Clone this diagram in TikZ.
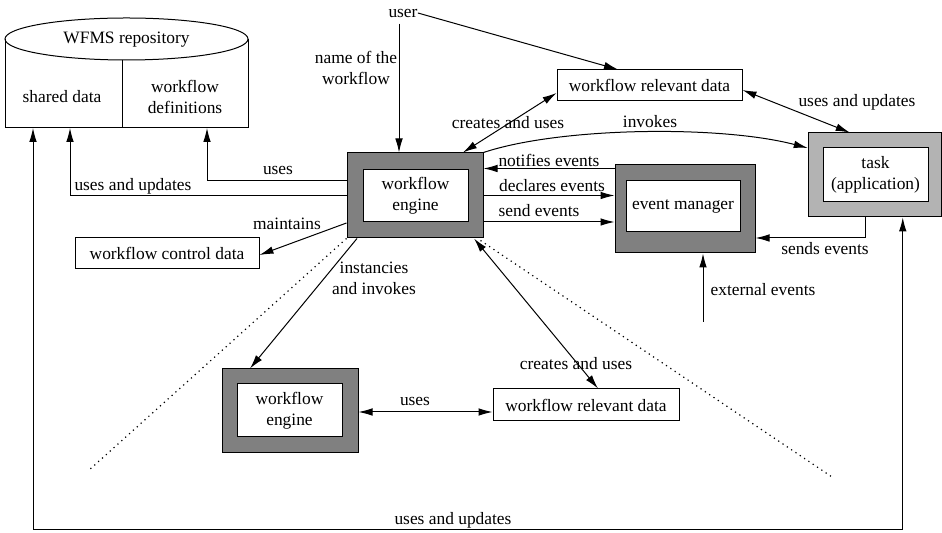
\documentclass[tikz,border=0pt]{standalone}
\usepackage{fontspec}
\setmainfont{Liberation Serif}
\usetikzlibrary{arrows.meta}
\definecolor{darkbox}{HTML}{808080}
\definecolor{lightbox}{HTML}{B3B3B3}
\tikzset{
  every node/.style={font=\fontsize{8.7}{10.5}\selectfont, inner sep=0pt},
  lbl/.style={align=center},
  outerbox/.style={draw, line width=0.5pt, fill=darkbox},
  taskbox/.style={draw, line width=0.5pt, fill=lightbox},
  innerbox/.style={draw, line width=0.5pt, fill=white, align=center},
  databox/.style={draw, line width=0.5pt, fill=white, minimum height=15.5pt, minimum width=92.5pt},
  conn/.style={line width=0.5pt, -{Latex[length=7pt,width=3.8pt]}},
  bconn/.style={line width=0.5pt, {Latex[length=7pt,width=3.8pt]}-{Latex[length=7pt,width=3.8pt]}},
  dotline/.style={line width=0.6pt, dotted},
}
\begin{document}
\begin{tikzpicture}[x=0.5pt,y=-0.5pt]
\useasboundingbox (0,0) rectangle (942,533);
% repository cylinder
\draw[line width=0.5pt, fill=white] (126.5,39) ellipse [x radius=60.75pt, y radius=10.5pt];
\draw[line width=0.5pt] (5,39) -- (5,128) -- (248,128) -- (248,39);
\draw[line width=0.5pt] (122,60) -- (122,128);
\node (repo) at (126.5,40) {WFMS repository};
\node (shared) at (62,97) {shared data};
\node[lbl] (defs) at (185,97) {workflow\\definitions};
\coordinate (sdA) at (33,128);
\coordinate (sdB) at (70,128);
\coordinate (defB) at (207,128);
\coordinate (botL) at (33,530);
% main engine
\node[outerbox, minimum width=68pt, minimum height=42.5pt] (eo) at (415,195.5) {};
\node[innerbox, minimum width=52.5pt, minimum height=26pt] (ei) at (415.5,196) {workflow\\engine};
% second engine
\node[outerbox, minimum width=68pt, minimum height=42pt] (e2o) at (290,411) {};
\node[innerbox, minimum width=52.5pt, minimum height=26.5pt] (e2i) at (289.5,410.5) {workflow\\engine};
% event manager
\node[outerbox, minimum width=70pt, minimum height=44pt] (emo) at (685,209) {};
\node[innerbox, minimum width=57pt, minimum height=25.5pt] (emi) at (683,206.5) {event manager};
% task
\node[taskbox, minimum width=66.5pt, minimum height=42pt] (to) at (874.75,175) {};
\node[innerbox, minimum width=52.5pt, minimum height=27pt] (ti) at (875.5,175) {task\\(application)};
% data boxes
\node[databox] (w1) at (649.5,85.5) {workflow relevant data};
\node[databox, minimum width=93pt, minimum height=16pt] (w2) at (586,405) {workflow relevant data};
\node[databox, minimum width=92pt] (wcd) at (167,253.5) {workflow control data};
% user
\node (user) at (403,13) {user};
\coordinate (ext) at (703,322);
\coordinate (dl) at (88,471);
\coordinate (dr) at (832,477);
% connectors
\draw[conn] ([xshift=-2pt,yshift=-3pt]user.south) -- ([xshift=-2pt]user.south |- eo.north);
\draw[conn] (user.east) -- ([xshift=-15.75pt]w1.north);
\draw[bconn] ([xshift=24pt]eo.north) -- ([yshift=-3.75pt]w1.west);
\draw[bconn] ([yshift=-2.25pt]w1.east) -- ([xshift=-12.5pt]to.north);
\draw[conn] (eo.north east) .. controls (560,127) and (720,125) .. ([yshift=13.5pt]to.west);
\draw[conn] ([yshift=-2pt]emo.north west) -- ([yshift=-2pt]emo.north west -| eo.east);
\draw[conn] (eo.east) -- (eo.east -| emo.west);
\draw[conn] ([yshift=-13.25pt]eo.east) -- ([yshift=-13.25pt]eo.east -| emo.west);
\draw[conn] ([xshift=-4.5pt]to.south) |- ([yshift=-14.5pt]emo.east);
\draw[conn] (ext) -- (ext |- emo.south);
\draw[conn] ([yshift=7.25pt]eo.west) -| (defB);
\draw[conn] (eo.west) -| (sdB);
\draw[conn] ([yshift=-13.75pt]eo.west) -- ([yshift=-0.75pt]wcd.east);
\draw[conn] ([xshift=-29pt]eo.south) -- ([xshift=-20pt]e2o.north);
\draw[bconn] ([xshift=29.5pt]eo.south) -- ([xshift=6pt]w2.north);
\draw[bconn] ([yshift=-0.5pt]e2o.east) -- ([yshift=-0.5pt]e2o.east -| w2.west);
\draw[bconn] (sdA) -- (botL) -| ([xshift=14pt]to.south);
\draw[dotline] (eo.south west) -- (dl);
\draw[dotline] ([xshift=-1.5pt,yshift=-1pt]eo.south east) -- (dr);
% labels
\node[lbl] (lname) at (356,68) {name of the\\workflow};
\node (lcu1) at (508,123) {creates and uses};
\node (luu1) at (857,102) {uses and updates};
\node (linv) at (650,122) {invokes};
\node (lnot) at (549,160) {notifies events};
\node (ldec) at (552,186) {declares events};
\node (lsend) at (539,211) {send events};
\node (lsends) at (825,249) {sends events};
\node (lext) at (763,290) {external events};
\node (luses) at (278,170) {uses};
\node (luu2) at (133,186) {uses and updates};
\node (lmain) at (287,224) {maintains};
\node[lbl] (linst) at (374,278) {instancies\\and invokes};
\node (lcu2) at (576,364) {creates and uses};
\node (luses2) at (415,401) {uses};
\node (luu3) at (453,520) {uses and updates};
\end{tikzpicture}
\end{document}
